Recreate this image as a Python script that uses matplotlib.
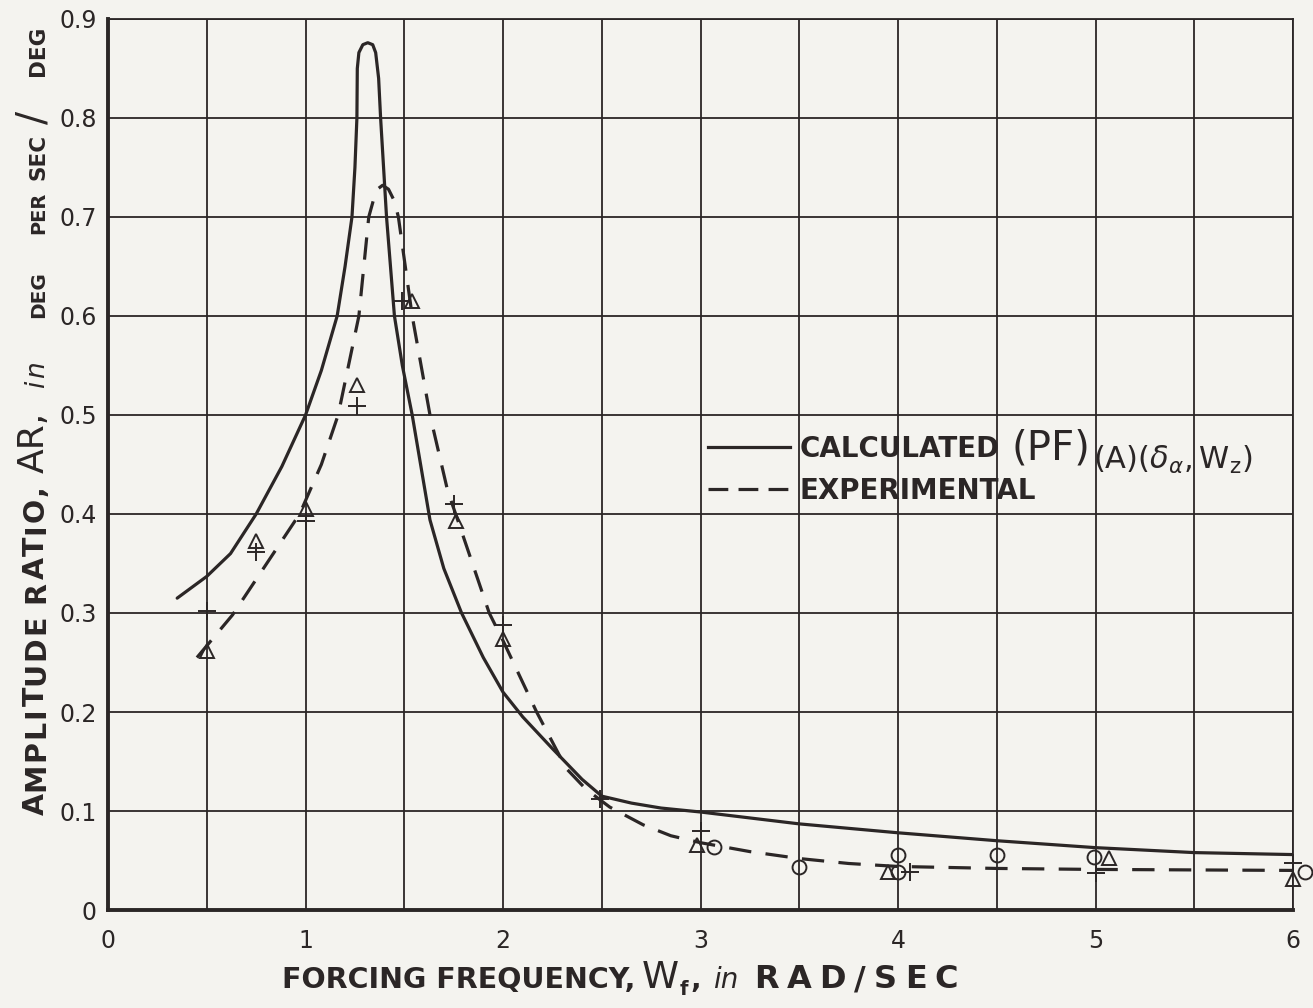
import matplotlib
matplotlib.use("Agg")
import matplotlib.pyplot as plt
from matplotlib.lines import Line2D
from matplotlib.transforms import IdentityTransform

PAPER = "#f4f3ef"
INK = "#2b2626"
W_PX, H_PX = 1313, 1008

# calculated amplitude ratio (solid curve)
calc_w = [0.35, 0.5, 0.62, 0.75, 0.88, 1.0, 1.08, 1.16, 1.20, 1.235, 1.25, 1.26, 1.262,
          1.27, 1.29, 1.315, 1.34, 1.355, 1.37, 1.38, 1.395, 1.41, 1.43, 1.45, 1.49,
          1.54, 1.63, 1.70, 1.79, 1.90, 2.0, 2.1, 2.25, 2.4, 2.5, 2.65, 2.8, 3.0,
          3.5, 4.0, 4.5, 5.0, 5.5, 6.0]
calc_ar = [0.315, 0.337, 0.36, 0.40, 0.448, 0.50, 0.545, 0.60, 0.65, 0.70, 0.75, 0.80, 0.85,
           0.866, 0.874, 0.876, 0.874, 0.866, 0.84, 0.80, 0.75, 0.70, 0.65, 0.60, 0.55,
           0.50, 0.394, 0.345, 0.30, 0.255, 0.22, 0.195, 0.163, 0.132, 0.115, 0.108, 0.103, 0.099,
           0.087, 0.078, 0.070, 0.063, 0.058, 0.056]

# experimental fairing (dashed curve)
exp_w = [0.45, 0.63, 0.80, 0.97, 1.08, 1.165, 1.27, 1.32, 1.345, 1.37, 1.39, 1.42, 1.45,
         1.47, 1.54, 1.63, 1.72, 1.76, 1.93, 2.0, 2.17, 2.32, 2.42, 2.54, 2.71, 2.85,
         3.0, 3.25, 3.5, 3.75, 4.0, 4.5, 5.0, 6.0]
exp_ar = [0.255, 0.298, 0.349, 0.40, 0.45, 0.50, 0.60, 0.70, 0.718, 0.729, 0.732, 0.728, 0.716,
          0.70, 0.60, 0.50, 0.423, 0.40, 0.30, 0.272, 0.20, 0.143, 0.122, 0.104, 0.086, 0.075,
          0.068, 0.059, 0.052, 0.047, 0.044, 0.042, 0.041, 0.040]

# test points
tri_w = [0.5, 0.75, 1.0, 1.26, 1.54, 1.76, 2.0, 2.98, 3.95, 5.07, 6.0]
tri_ar = [0.262, 0.373, 0.405, 0.53, 0.615, 0.393, 0.274, 0.066, 0.038, 0.053, 0.031]
plus_w = [0.5, 0.75, 1.0, 1.26, 1.49, 1.75, 2.0, 2.49, 3.0, 4.06, 5.0, 6.0]
plus_ar = [0.302, 0.362, 0.393, 0.509, 0.615, 0.41, 0.288, 0.112, 0.08, 0.038, 0.037, 0.047]
circ_w = [3.07, 3.5, 4.0, 4.0, 4.5, 4.99, 6.06]
circ_ar = [0.064, 0.043, 0.056, 0.038, 0.056, 0.054, 0.038]

x_ticks = [0, 1, 2, 3, 4, 5, 6]
y_ticks = [0, 0.1, 0.2, 0.3, 0.4, 0.5, 0.6, 0.7, 0.8, 0.9]
y_tick_labels = ["0", "0.1", "0.2", "0.3", "0.4", "0.5", "0.6", "0.7", "0.8", "0.9"]


def letter_text(fig, s, px, py, size, weight="bold", style="normal", spacing=0, vertical=False):
    """Hand-lettering style text: starts at image pixel (px, py), extra spacing between letters.
    For vertical text px is the baseline and the text reads upwards from py."""
    renderer = fig.canvas.get_renderer()
    chunks = list(s) if spacing else [s]
    x, y = px, H_PX - py
    for c in chunks:
        if c == " ":
            step = 0.35 * size * fig.dpi / 72
        else:
            t = fig.text(x, y, c, fontsize=size, fontweight=weight, style=style, color=INK,
                         rotation=90 if vertical else 0, rotation_mode="anchor",
                         ha="left", va="baseline", transform=IdentityTransform())
            bb = t.get_window_extent(renderer)
            step = (bb.height if vertical else bb.width) + spacing
        if vertical:
            y += step
        else:
            x += step


plt.rcParams["font.family"] = ["DejaVu Sans"]

fig = plt.figure(figsize=(W_PX / 100, H_PX / 100), dpi=100, facecolor=PAPER)
ax = fig.add_axes([0.0823, 0.0972, 0.9025, 0.884])
ax.set_facecolor(PAPER)

ax.plot(calc_w, calc_ar, color=INK, lw=2.3, solid_capstyle="round", zorder=3)
ax.plot(exp_w, exp_ar, color=INK, lw=2.3, dashes=(7, 4.5), zorder=3)
ax.plot(tri_w, tri_ar, ls="none", marker="^", ms=10, mfc="none", mec=INK, mew=1.4,
        clip_on=False, zorder=4)
ax.plot(plus_w, plus_ar, ls="none", marker="+", ms=13, mec=INK, mew=1.4,
        clip_on=False, zorder=4)
ax.plot(circ_w, circ_ar, ls="none", marker="o", ms=10, mfc="none", mec=INK, mew=1.4,
        clip_on=False, zorder=4)

ax.set_xlim(0, 6)
ax.set_ylim(0, 0.9)
ax.set_xticks(x_ticks)
ax.set_xticks([0.5 * i for i in range(13)], minor=True)
ax.set_yticks(y_ticks, y_tick_labels)
ax.grid(which="both", axis="x", color=INK, lw=1.3)
ax.grid(which="major", axis="y", color=INK, lw=1.3)
ax.tick_params(which="both", length=0)
ax.tick_params(axis="x", pad=14, labelsize=17, labelcolor=INK)
ax.tick_params(axis="y", pad=8, labelsize=17, labelcolor=INK)
for side in ["top", "right"]:
    ax.spines[side].set_linewidth(1.3)
    ax.spines[side].set_color(INK)
for side in ["left", "bottom"]:
    ax.spines[side].set_linewidth(2.8)
    ax.spines[side].set_color(INK)

handles = [Line2D([], [], color=INK, lw=2.3),
           Line2D([], [], color=INK, lw=2.3, dashes=(6.2, 3.2))]
leg = ax.legend(handles, ["CALCULATED", "EXPERIMENTAL"], loc="upper left",
                bbox_to_anchor=(0.506, 0.533), frameon=False, borderpad=0, borderaxespad=0,
                handlelength=2.95, handletextpad=0.36, labelspacing=0.5,
                prop={"weight": "bold", "size": 20}, labelcolor=INK)

# subscripted symbol after the CALCULATED label
fig.canvas.draw()
renderer = fig.canvas.get_renderer()
calc_box = leg.get_texts()[0].get_window_extent(renderer)
base_py = H_PX - calc_box.y0 - 6
letter_text(fig, "(PF)", calc_box.x1 + 12, base_py + 2, 29, weight="normal")
fig.text(calc_box.x1 + 93, H_PX - base_py - 12,
         r"$(\mathrm{A})(\delta_{\alpha},\mathrm{W_z})$", fontsize=22, color=INK,
         ha="left", va="baseline", transform=IdentityTransform())

# x axis title
letter_text(fig, "FORCING FREQUENCY,", 282, 988, 20.5)
letter_text(fig, "W", 642, 988, 27, weight="normal")
letter_text(fig, "f", 680, 995, 14)
letter_text(fig, ",", 690, 988, 20)
letter_text(fig, "in", 713, 988, 20, weight="normal", style="italic")
letter_text(fig, "RAD/SEC", 754, 988, 23, spacing=8)

# y axis title, reads upwards
letter_text(fig, "AMPLITUDE RATIO,", 44, 815, 20.5, spacing=1.8, vertical=True)
letter_text(fig, "AR,", 44, 473, 26, weight="normal", vertical=True)
letter_text(fig, "in", 44, 388, 19, weight="normal", style="italic", spacing=3, vertical=True)
letter_text(fig, "DEG", 44, 318, 14.5, vertical=True)
letter_text(fig, "PER", 44, 234, 14, vertical=True)
letter_text(fig, "SEC", 44, 180, 15.5, vertical=True)
letter_text(fig, "/", 44, 124, 28, weight="normal", vertical=True)
letter_text(fig, "DEG", 44, 76, 15.5, vertical=True)

fig.savefig("out.png", dpi=100, facecolor=PAPER)
